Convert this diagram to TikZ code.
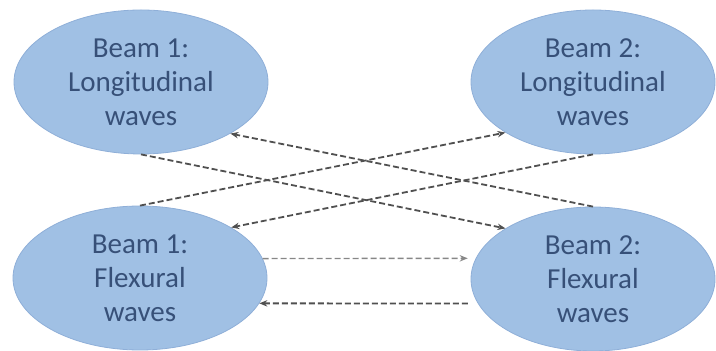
\documentclass[tikz,border=0pt]{standalone}
\usepackage{fontspec}
\setmainfont{Carlito}
\usetikzlibrary{arrows.meta,shapes.geometric}
\definecolor{beamfill}{RGB}{160,192,228}
\definecolor{beamedge}{RGB}{143,175,216}
\definecolor{beamtext}{RGB}{55,80,120}
\definecolor{wavegray}{RGB}{80,80,80}
\definecolor{wavelight}{RGB}{135,135,135}

\begin{document}
\begin{tikzpicture}[x=0.5pt, y=-0.5pt, >={Stealth[length=4pt,width=3.2pt]},
    beam/.style={ellipse, fill=beamfill, draw=beamedge, line width=0.4pt,
        inner sep=0pt, minimum height=72pt, text=beamtext, align=center,
        font=\fontsize{14.5}{17}\selectfont},
    wave/.style={->, dash pattern=on 3pt off 1.5pt, line width=0.9pt, draw=wavegray}]
    \useasboundingbox (0,0) rectangle (716,351);
    % the four beams
    \node[beam, minimum width=127pt] (long1) at (141,82) {Beam 1:\\Longitudinal\\waves};
    \node[beam, minimum width=122pt] (long2) at (593,82) {Beam 2:\\Longitudinal\\waves};
    \node[beam, minimum width=127pt] (flex1) at (140,278) {Beam 1:\\Flexural\\waves};
    \node[beam, minimum width=122pt] (flex2) at (593,279) {Beam 2:\\Flexural\\waves};
    % crossing couplings
    \draw[wave] (flex1.90) -- (long2.210);
    \draw[wave] (long2.270) -- (flex1.29);
    \draw[wave] (flex2.90) -- (long1.330);
    \draw[wave] (long1.270) -- (flex2.150);
    % flexural to flexural
    \draw[wave, draw=wavelight, line width=0.7pt, shorten >=4pt] (flex1.9) -- (flex2.170);
    \draw[wave, shorten <=5pt] (flex2.192) -- (flex1.348);
\end{tikzpicture}
\end{document}
